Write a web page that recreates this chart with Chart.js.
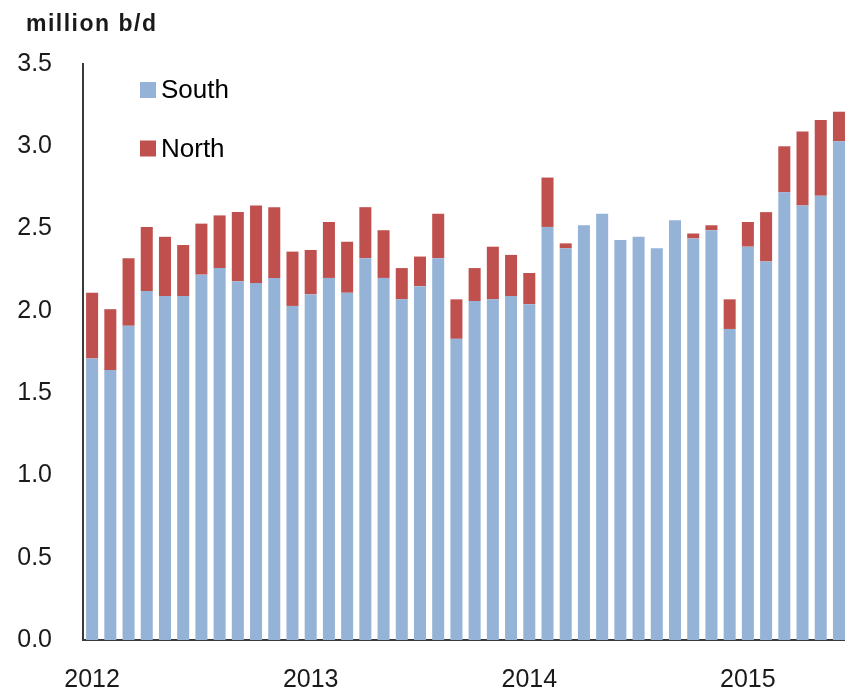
<!DOCTYPE html>
<html>
<head>
<meta charset="utf-8">
<script src="https://cdn.jsdelivr.net/npm/chart.js@4"></script>
<style>
  html, body { margin: 0; padding: 0; background: #fff; overflow: hidden; }
  #wrap { width: 845px; height: 690px; overflow: hidden; }
</style>
</head>
<body>
<div id="wrap"><canvas id="oilChart" width="864" height="690"></canvas></div>
<script>
// monthly, Jan 2012 - Jun 2015
const months = [
  '2012-01','2012-02','2012-03','2012-04','2012-05','2012-06','2012-07','2012-08','2012-09','2012-10','2012-11','2012-12',
  '2013-01','2013-02','2013-03','2013-04','2013-05','2013-06','2013-07','2013-08','2013-09','2013-10','2013-11','2013-12',
  '2014-01','2014-02','2014-03','2014-04','2014-05','2014-06','2014-07','2014-08','2014-09','2014-10','2014-11','2014-12',
  '2015-01','2015-02','2015-03','2015-04','2015-05','2015-06'
];
const south = [
  1.71, 1.64, 1.91, 2.12, 2.09, 2.09, 2.22, 2.26, 2.18, 2.17, 2.20, 2.03,
  2.10, 2.20, 2.11, 2.32, 2.20, 2.07, 2.15, 2.32, 1.83, 2.06, 2.07, 2.09,
  2.04, 2.51, 2.38, 2.52, 2.59, 2.43, 2.45, 2.38, 2.55, 2.44, 2.49, 1.89,
  2.39, 2.30, 2.72, 2.64, 2.70, 3.03
];
const north = [
  0.40, 0.37, 0.41, 0.39, 0.36, 0.31, 0.31, 0.32, 0.42, 0.47, 0.43, 0.33,
  0.27, 0.34, 0.31, 0.31, 0.29, 0.19, 0.18, 0.27, 0.24, 0.20, 0.32, 0.25,
  0.19, 0.30, 0.03, 0, 0, 0, 0, 0, 0, 0.03, 0.03, 0.18,
  0.15, 0.30, 0.28, 0.45, 0.46, 0.18
];
const yTicks = [0, 0.5, 1.0, 1.5, 2.0, 2.5, 3.0, 3.5];
const unitLabel = 'million b/d';

const FONT = '"Liberation Sans", Arial, sans-serif';
const TEXT = '#1a1a1a';

// unit label + vertical legend inside the plot
const annotate = {
  id: 'annotate',
  afterDraw(chart) {
    const ctx = chart.ctx;
    ctx.save();
    ctx.fillStyle = TEXT;
    ctx.font = 'bold 23px ' + FONT;
    ctx.letterSpacing = '1.5px';
    ctx.textBaseline = 'alphabetic';
    ctx.fillText(unitLabel, 26, 31);
    ctx.letterSpacing = '0px';

    ctx.font = '26px ' + FONT;
    ctx.textBaseline = 'middle';
    chart.data.datasets.forEach((ds, i) => {
      const y = 90 + i * 58.5;
      ctx.fillStyle = ds.backgroundColor;
      ctx.fillRect(140, y - 8, 16, 16);
      ctx.fillStyle = '#000';
      ctx.fillText(ds.label, 161, y + 1);
    });
    ctx.restore();
  }
};

new Chart(document.getElementById('oilChart').getContext('2d'), {
  type: 'bar',
  data: {
    labels: months,
    datasets: [
      { label: 'South', data: south, backgroundColor: '#95B3D7', barPercentage: 0.66, categoryPercentage: 1 },
      { label: 'North', data: north, backgroundColor: '#C0504D', barPercentage: 0.66, categoryPercentage: 1 }
    ]
  },
  options: {
    responsive: false,
    animation: false,
    layout: { padding: { top: 64, right: 4, left: 0, bottom: 0 } },
    plugins: { legend: { display: false }, tooltip: { enabled: false } },
    scales: {
      x: {
        stacked: true,
        grid: { display: false, drawTicks: false },
        border: { display: true, color: '#3a3a3a', width: 2 },
        ticks: {
          autoSkip: false,
          maxRotation: 0,
          padding: 25,
          color: TEXT,
          font: { family: FONT, size: 25 },
          callback(v) {
            const m = months[v];
            return m.endsWith('-01') ? m.slice(0, 4) : '';
          }
        },
        afterFit(scale) { scale.height = 50; }
      },
      y: {
        stacked: true,
        min: 0,
        max: 3.5,
        afterBuildTicks(scale) { scale.ticks = yTicks.map(v => ({ value: v })); },
        grid: { display: false, drawTicks: false },
        border: { display: true, color: '#3a3a3a', width: 2 },
        ticks: {
          padding: 31,
          color: TEXT,
          font: { family: FONT, size: 25 },
          callback: v => v.toFixed(1)
        },
        afterFit(scale) { scale.width = 83; }
      }
    }
  },
  plugins: [annotate]
});
</script>
</body>
</html>
